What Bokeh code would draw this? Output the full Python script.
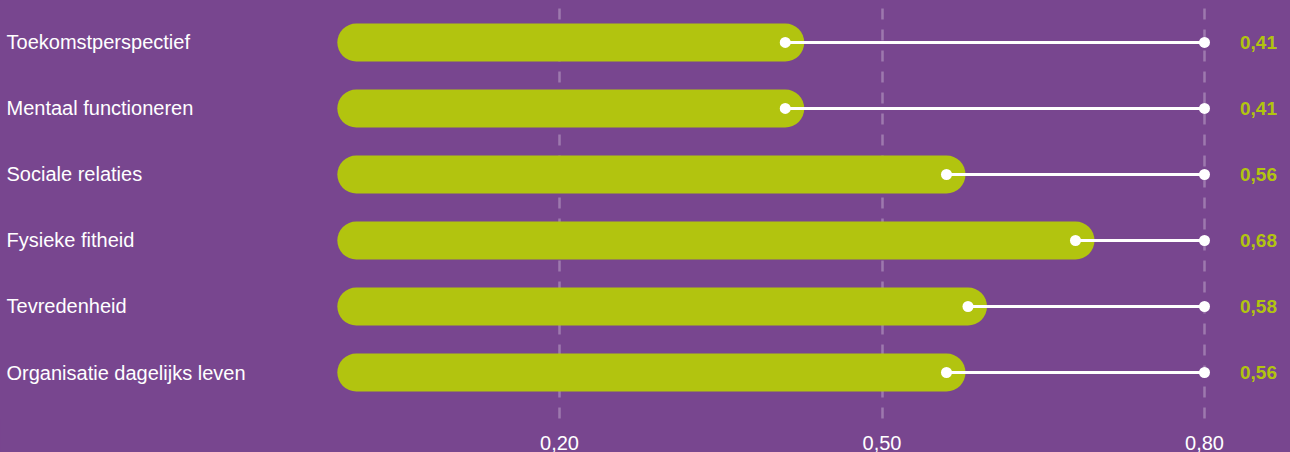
from bokeh.plotting import figure
from bokeh.models import ColumnDataSource, Range1d, FixedTicker
from bokeh.core.properties import value
from bokeh.embed import file_html
from bokeh.resources import INLINE

# Scores per domein (van boven naar beneden)
categories = [
    "Toekomstperspectief",
    "Mentaal functioneren",
    "Sociale relaties",
    "Fysieke fitheid",
    "Tevredenheid",
    "Organisatie dagelijks leven",
]
scores = [0.41, 0.41, 0.56, 0.68, 0.58, 0.56]
max_score = 0.80
tick_values = [0.20, 0.50, 0.80]
tick_labels = ["0,20", "0,50", "0,80"]

PURPLE = "#78468f"
GREEN = "#b2c40f"
FONT = value("Liberation Sans")

rows = list(range(len(categories)))
src = ColumnDataSource(dict(
    y=rows,
    cat=categories,
    score=scores,
    start=[0.011] * len(scores),
    top=[max_score] * len(scores),
    label=[f"{s:.2f}".replace(".", ",") for s in scores],
))

p = figure(
    width=1290, height=452,
    x_range=Range1d(-0.32, 0.88),
    y_range=Range1d(5.712, -0.636),
    output_backend="svg", toolbar_location=None,
    min_border=0, min_border_bottom=33,
    outline_line_color=None,
    background_fill_color=PURPLE,
    border_fill_color=PURPLE,
)
p.styles = {"background-color": PURPLE}
p.yaxis.visible = False
p.ygrid.visible = False

# dashed vertical guides
p.xgrid.ticker = FixedTicker(ticks=tick_values)
p.xgrid.grid_line_color = "white"
p.xgrid.grid_line_alpha = 0.28
p.xgrid.grid_line_width = 2.5
p.xgrid.grid_line_dash = "11 10"
p.xgrid.grid_line_dash_offset = 13

ax = p.xaxis[0]
ax.ticker = FixedTicker(ticks=tick_values)
ax.major_label_overrides = dict(zip(tick_values, tick_labels))
ax.axis_line_color = None
ax.major_tick_line_color = None
ax.minor_tick_line_color = None
ax.major_label_standoff = 10
ax.major_label_text_color = "white"
ax.major_label_text_font = "Liberation Sans"
ax.major_label_text_font_size = "20px"

# rounded bars
p.segment(x0="start", y0="y", x1="score", y1="y", source=src,
          line_color=GREEN, line_width=38, line_cap="round")

# line from score to maximum with end dots
p.segment(x0="score", y0="y", x1="top", y1="y", source=src,
          line_color="white", line_width=3)
p.scatter(x="score", y="y", source=src, size=11, fill_color="white", line_color=None)
p.scatter(x="top", y="y", source=src, size=11, fill_color="white", line_color=None)

# category labels
p.text(x=-0.3144, y="y", text="cat", source=src, text_font=FONT,
       text_font_size="20px", text_color="white", text_baseline="middle",
       text_align="left")

# value labels
p.text(x=0.833, y="y", text="label", source=src, text_font=FONT,
       text_font_size="19px", text_font_style="bold", text_color=GREEN,
       text_baseline="middle", text_align="left")

html = file_html(p, INLINE)
html = html.replace("<body>", f'<body style="margin:0;background:{PURPLE}">', 1)
open("out.html", "w").write(html)
